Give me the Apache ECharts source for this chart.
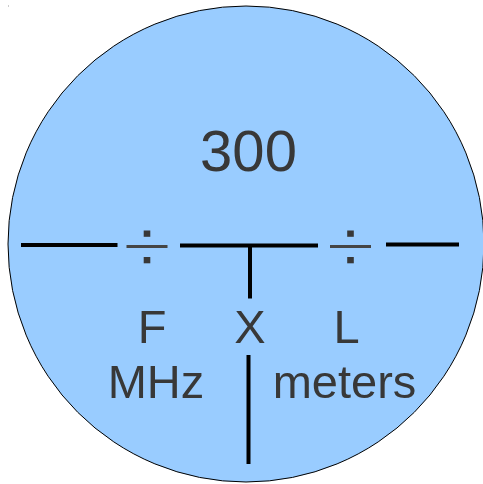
<!DOCTYPE html>
<html>
<head>
<meta charset="utf-8">
<script src="https://cdn.jsdelivr.net/npm/echarts@6/dist/echarts.min.js"></script>
<style>html,body{margin:0;padding:0;background:#fff}#c{width:483px;height:484px}</style>
</head>
<body>
<div id="c"></div>
<script>
// Diagram geometry (in diagram units = pixels of the reference)
const circles = [[246, 244, 238]];                   // cx, cy, r
const barSegments = [                                // x1, y1, x2, y2 (thick black bars)
  [21, 245, 117.5, 245],
  [180, 245.5, 318, 245.5],
  [386, 244.5, 459, 244.5],
  [250, 245.5, 250, 298.5],
  [248.5, 355, 248.5, 464]
];
const divideSigns = [[147, 246.5], [350.5, 246.5]];  // centre of each ÷
const labelTexts = ['300', 'F', 'X', 'L', 'MHz', 'meters'];
const labelX = [248.5, 152, 250, 346.5, 156, 344.5];
const labelY = [172, 344, 344, 344, 399, 399];       // baselines
const labelSize = [58, 47, 47, 47, 47, 47];
const specks = [[8.5, 6]];

const labelData = labelTexts.map((t, i) => [labelX[i], labelY[i]]);

const chart = echarts.init(document.getElementById('c'), null, {renderer: 'canvas'});
const ax = {show: false};
chart.setOption({
  animation: false,
  grid: {left: 0, right: 0, top: 0, bottom: 0},
  xAxis: Object.assign({type: 'value', min: 0, max: 483}, ax),
  yAxis: Object.assign({type: 'value', min: 0, max: 484, inverse: true}, ax),
  series: [
    {
      type: 'custom', data: circles, clip: false,
      renderItem: (p, api) => {
        const d = circles[p.dataIndex];
        const c = api.coord([d[0], d[1]]);
        const e = api.coord([d[0] + d[2], d[1]]);
        return {type: 'circle', shape: {cx: c[0], cy: c[1], r: e[0] - c[0]},
          style: {fill: '#99ccff', stroke: '#000', lineWidth: 1}};
      }
    },
    {
      type: 'custom', data: barSegments, clip: false,
      renderItem: (p, api) => {
        const d = barSegments[p.dataIndex];
        const a = api.coord([d[0], d[1]]);
        const b = api.coord([d[2], d[3]]);
        return {type: 'line', shape: {x1: a[0], y1: a[1], x2: b[0], y2: b[1]},
          style: {stroke: '#000', lineWidth: 4}};
      }
    },
    {
      type: 'custom', data: divideSigns, clip: false,
      renderItem: (p, api) => {
        const d = divideSigns[p.dataIndex];
        const c = api.coord([d[0], d[1]]);
        return {type: 'group', children: [
          {type: 'line', shape: {x1: c[0] - 20.5, y1: c[1], x2: c[0] + 20.5, y2: c[1]},
            style: {stroke: '#454545', lineWidth: 3}},
          {type: 'rect', shape: {x: c[0] - 3.3, y: c[1] - 16, width: 6.6, height: 6.3},
            style: {fill: '#383838'}},
          {type: 'rect', shape: {x: c[0] - 3.3, y: c[1] + 10.5, width: 6.6, height: 6.3},
            style: {fill: '#383838'}}
        ]};
      }
    },
    {
      type: 'custom', data: labelData, clip: false,
      renderItem: (p, api) => {
        const i = p.dataIndex;
        const c = api.coord([labelX[i], labelY[i]]);
        const s = labelSize[i];
        return {type: 'text', x: c[0], y: c[1] - 0.79 * s,
          style: {text: labelTexts[i], fill: '#383838',
            font: s + 'px "Liberation Sans", Arial, sans-serif',
            align: 'center', verticalAlign: 'top'}};
      }
    },
    {
      type: 'custom', data: specks, clip: false,
      renderItem: (p, api) => {
        const d = specks[p.dataIndex];
        const c = api.coord([d[0], d[1]]);
        return {type: 'rect', shape: {x: c[0] - 0.5, y: c[1] - 0.5, width: 1, height: 1},
          style: {fill: '#999'}};
      }
    }
  ]
});
</script>
</body>
</html>
